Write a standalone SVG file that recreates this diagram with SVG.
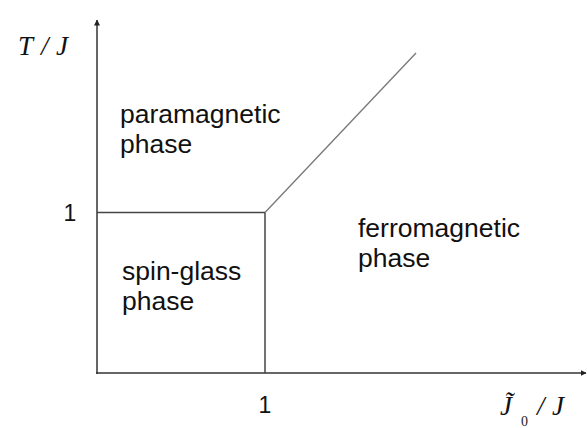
<svg xmlns="http://www.w3.org/2000/svg" width="587" height="428" viewBox="0 0 587 428">
<defs>
<style>
.lbl{font-family:"Liberation Sans",Arial,sans-serif;font-size:26.5px;fill:#111}
.num{font-family:"Liberation Sans",Arial,sans-serif;font-size:23px;fill:#111}
.math{font-family:"Liberation Serif","Times New Roman",serif;font-style:italic;font-size:27px;fill:#111}
.sub{font-family:"Liberation Serif","Times New Roman",serif;font-size:14px;fill:#222}
.axis{stroke:#333;stroke-width:1.5;fill:none}
.edge{stroke:#444;stroke-width:1.5;fill:none}
.diag{stroke:#777;stroke-width:1.3;fill:none}
</style>
<marker id="ah" viewBox="0 0 6 6" refX="5.5" refY="3" markerWidth="6" markerHeight="6" markerUnits="userSpaceOnUse" orient="auto">
<path d="M0,0 L6,3 L0,6 Z" fill="#222"/>
</marker>
</defs>
<rect width="587" height="428" fill="#fff"/>
<g id="connectors">
<line class="axis" x1="97" y1="374" x2="97" y2="20" marker-end="url(#ah)"/>
<line class="axis" x1="96" y1="373" x2="586" y2="373" marker-end="url(#ah)"/>
<line class="edge" x1="97" y1="212.5" x2="265" y2="212.5"/>
<line class="edge" x1="265" y1="212.5" x2="265" y2="373"/>
<line class="diag" x1="265" y1="212.5" x2="416" y2="53"/>
</g>
<g id="axis-y-label">
<text class="math" x="18" y="55">T</text>
<text class="math" x="41" y="55">/</text>
<text class="math" x="56" y="55">J</text>
</g>
<g id="axis-x-label">
<text class="math" x="500" y="415">J̃</text>
<text class="sub" x="521" y="426">0</text>
<text class="math" x="537" y="415">/</text>
<text class="math" x="552" y="415">J</text>
</g>
<g id="tick-y">
<text class="num" x="70" y="221" text-anchor="middle">1</text>
</g>
<g id="tick-x">
<text class="num" x="265" y="413" text-anchor="middle">1</text>
</g>
<g id="paramagnetic">
<text class="lbl" x="120" y="123">paramagnetic</text>
<text class="lbl" x="120" y="153">phase</text>
</g>
<g id="spin-glass">
<text class="lbl" x="122" y="280">spin-glass</text>
<text class="lbl" x="122" y="310">phase</text>
</g>
<g id="ferromagnetic">
<text class="lbl" x="358" y="237">ferromagnetic</text>
<text class="lbl" x="358" y="267">phase</text>
</g>
</svg>
